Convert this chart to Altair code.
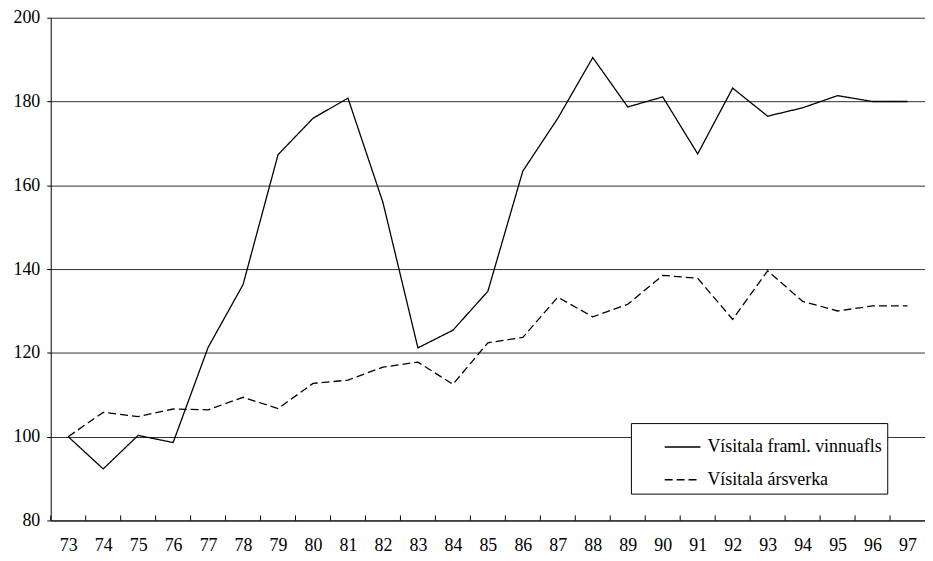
import altair as alt
import pandas as pd

years = list(range(73, 98))
vinnuafl = [100, 92.3, 100.3, 98.6, 121.3, 136.3, 167.3, 176.0, 180.8, 155.9,
            121.2, 125.4, 134.7, 163.4, 176.0, 190.5, 178.7, 181.1, 167.5, 183.2,
            176.5, 178.5, 181.4, 180.0, 180.0]
arsverk = [100, 105.8, 104.8, 106.6, 106.4, 109.4, 106.7, 112.7, 113.5, 116.6,
           117.8, 112.5, 122.4, 123.7, 133.3, 128.6, 131.6, 138.5, 137.8, 128.0,
           139.6, 132.3, 130.0, 131.2, 131.2]
y_ticks = [80, 100, 120, 140, 160, 180, 200]
series_names = ["Vísitala framl. vinnuafls", "Vísitala ársverka"]

rows = []
for y, a, b in zip(years, vinnuafl, arsverk):
    rows.append({"year": y, "value": a, "series": series_names[0]})
    rows.append({"year": y, "value": b, "series": series_names[1]})
df = pd.DataFrame(rows)
df_years = pd.DataFrame({"year": years})

FONT = "Times New Roman"
xscale = alt.Scale(domain=[72.5, 97.5], nice=False, zero=False)
yscale = alt.Scale(domain=[80, 200], nice=False, zero=False)
xaxis = alt.Axis(
    values=years, format="d", title=None, ticks=False, tickSize=0, grid=False,
    domainColor="black", labelPadding=16, labelOverlap=False, labelFont=FONT,
    labelFontSize=18, labelColor="black", labelBound=False, labelFlush=False,
)
yaxis = alt.Axis(
    values=y_ticks, title=None, grid=True, gridColor="#303030", gridWidth=1,
    tickColor="black", tickSize=4, domainColor="black", labelPadding=7,
    labelOverlap=False, labelFont=FONT, labelFontSize=18, labelColor="black",
)

lines = alt.Chart(df).mark_line(color="black", strokeWidth=1.3).encode(
    x=alt.X("year:Q", scale=xscale, axis=xaxis),
    y=alt.Y("value:Q", scale=yscale, axis=yaxis),
    strokeDash=alt.StrokeDash(
        "series:N",
        scale=alt.Scale(domain=series_names, range=[[1, 0], [8, 4]]),
        legend=alt.Legend(
            title=None, orient="none", legendX=584, legendY=408,
            strokeColor="black", fillColor="white", padding=5,
            symbolType="stroke", symbolSize=1296, symbolStrokeWidth=1.5,
            symbolStrokeColor="black", symbolOffset=28, labelOffset=6,
            labelFont=FONT, labelFontSize=18, labelColor="black",
            rowPadding=5, labelLimit=400,
        ),
    ),
    order=alt.Order("year:Q"),
)

ticks = alt.Chart(df_years).transform_calculate(b="datum.year - 0.5").mark_rule(
    color="black", strokeWidth=1
).encode(
    x=alt.X("b:Q", scale=xscale, axis=xaxis),
    y=alt.Y(datum=80, scale=yscale, axis=yaxis),
    y2=alt.datum(81.2),
)

chart = alt.layer(ticks, lines).properties(
    width=880, height=506,
    autosize=alt.AutoSizeParams(type="none"),
    padding={"left": 43, "top": 8, "right": 0, "bottom": 36},
).configure(font=FONT).configure_view(stroke=None)

chart.save("out.html", embed_options={"renderer": "svg", "actions": False})
